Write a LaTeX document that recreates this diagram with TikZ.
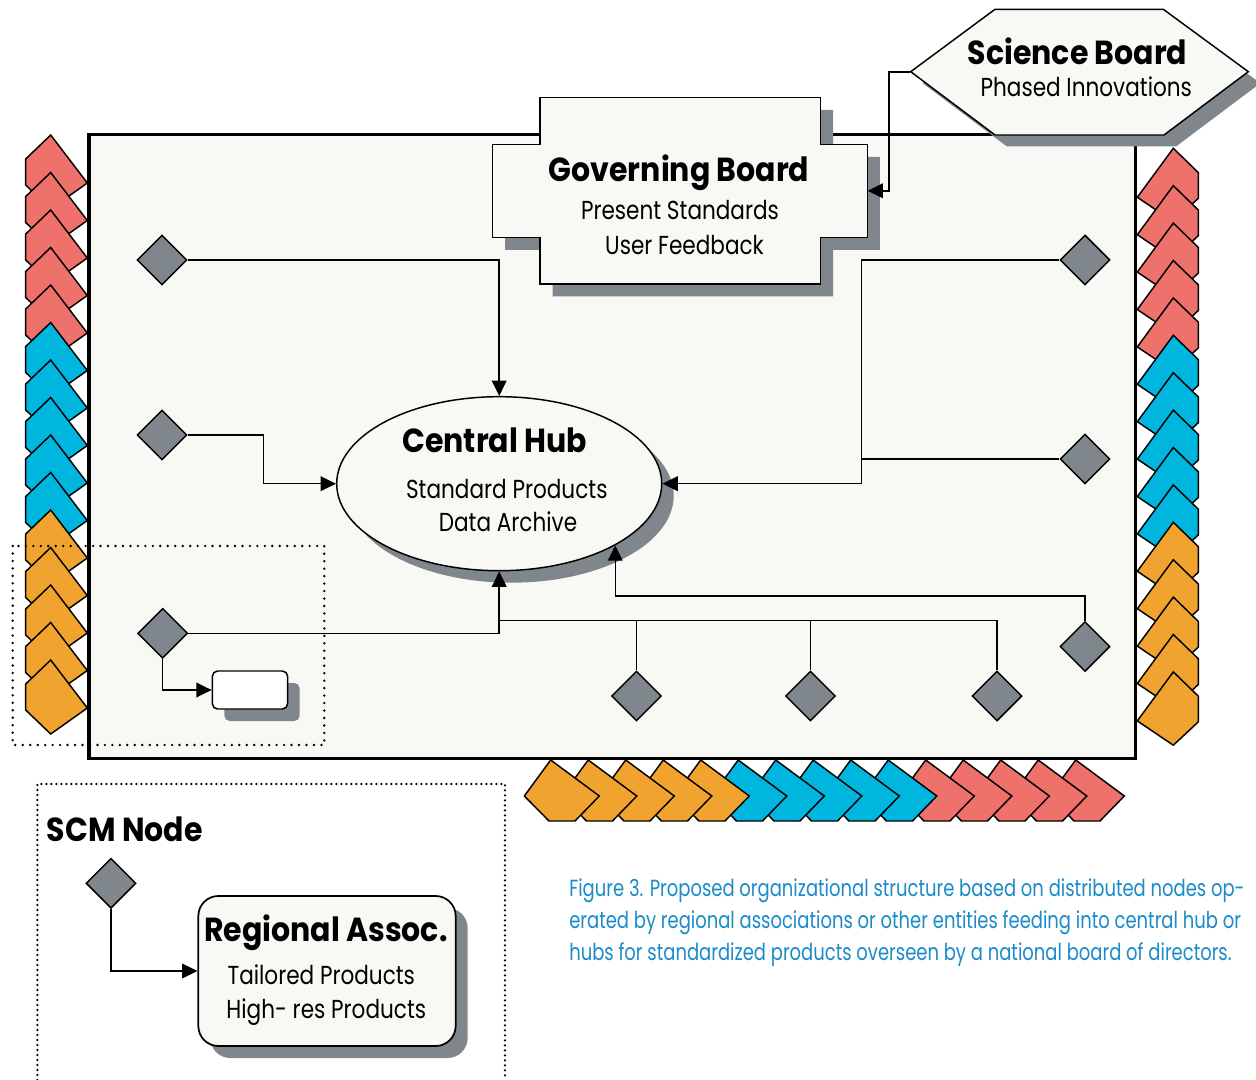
\documentclass[tikz,border=0pt]{standalone}
\usepackage{fontspec}
\setmainfont{Poppins}[FakeStretch=0.83]
\newfontfamily\titlefont{Poppins}[FakeStretch=0.9]
\newfontfamily\capfont{Poppins}[FakeStretch=0.77]
\usetikzlibrary{shapes.geometric,arrows.meta,shadows}

\definecolor{bgfill}{HTML}{F8F8F4}
\definecolor{sgray}{HTML}{7F868C}
\definecolor{cred}{HTML}{EE716C}
\definecolor{cblue}{HTML}{00B6DE}
\definecolor{corange}{HTML}{F0A42F}
\definecolor{capblue}{HTML}{1B8BC9}

\tikzset{
  line/.style={draw=black, line width=1.1pt},
  conn/.style={line, -{Triangle[length=11.5pt,width=11pt]}},
  chev/.style={draw=black, line width=1.1pt, line join=miter},
  gem/.style={diamond, draw=black, line width=1.1pt, fill=sgray,
    minimum width=37.5pt, minimum height=37.5pt, inner sep=0pt},
  shade/.style={drop shadow={shadow xshift=9pt, shadow yshift=-9pt,
    fill=sgray, opacity=1}},
  title/.style={font=\titlefont\fontsize{25pt}{30pt}\selectfont\bfseries,
    anchor=base, inner sep=0pt},
  body/.style={font=\fontsize{19.5pt}{23pt}\selectfont, anchor=base, inner sep=0pt},
  caption/.style={font=\capfont\fontsize{17.5pt}{21pt}\selectfont, text=capblue,
    anchor=base west, inner sep=0pt},
  dotsA/.style={line width=2pt, dash pattern=on 0pt off 5.6pt, line cap=round},
  dotsB/.style={line width=1.9pt, dash pattern=on 0pt off 3.75pt, line cap=round},
  gbpath/.style={insert path={(540,97.3) -- (820.7,97.3) -- (820.7,144.3)
    -- (867.3,144.3) -- (867.3,237.3) -- (820.7,237.3) -- (820.7,284)
    -- (540,284) -- (540,237.3) -- (492.7,237.3) -- (492.7,144.3)
    -- (540,144.3) -- cycle}},
  sbpath/.style={insert path={(995,9.3) -- (1163.3,9.3) -- (1248.3,71.7)
    -- (1164,135) -- (995,135) -- (910.7,71.7) -- cycle}}
}

\begin{document}
\begin{tikzpicture}[x=0.75pt,y=-0.75pt]
\useasboundingbox (0,0) rectangle (1256,1080);
\fill[white] (0,0) rectangle (1256,1080);

% left column of upward chevrons (lower ones overlap upper ones)
\foreach \i in {0,...,14}{
  \ifnum\i<5 \def\cc{cred}\else\ifnum\i<10 \def\cc{cblue}\else\def\cc{corange}\fi\fi
  \pgfmathsetmacro\ay{135+37.5*\i}
  \filldraw[chev, fill=\cc] (50.7,\ay) -- (25.7,\ay+24) -- (25.7,\ay+50)
    -- (50.7,\ay+74) -- (87.3,\ay+48) -- cycle;
}
% right column of upward chevrons
\foreach \i in {0,...,14}{
  \ifnum\i<5 \def\cc{cred}\else\ifnum\i<10 \def\cc{cblue}\else\def\cc{corange}\fi\fi
  \pgfmathsetmacro\ay{148.3+37.4*\i}
  \filldraw[chev, fill=\cc] (1173.3,\ay) -- (1198.3,\ay+24.3) -- (1198.3,\ay+50)
    -- (1173.3,\ay+73.3) -- (1137.3,\ay+49) -- cycle;
}
% bottom row of rightward chevrons (left ones overlap right ones)
\foreach \i in {14,13,...,0}{
  \ifnum\i<5 \def\cc{corange}\else\ifnum\i<10 \def\cc{cblue}\else\def\cc{cred}\fi\fi
  \pgfmathsetmacro\tx{550.7+37.5*\i}
  \filldraw[chev, fill=\cc] (\tx-26.4,796) -- (\tx,760) -- (\tx+48.6,796)
    -- (\tx+24.3,821) -- (\tx-1.7,821) -- cycle;
}

% main frame
\draw[line width=2.5pt, fill=bgfill] (89,134.5) rectangle (1135.7,758.3);

% governing board
\fill[sgray, shift={(12.5,12.5)}] [gbpath];
\draw[line, fill=bgfill] [gbpath];
\node[minimum width=281pt, minimum height=69.75pt, inner sep=0pt] (gb) at (680,190.8) {};

% science board
\fill[sgray, shift={(12,11.5)}] [sbpath];
\draw[line, fill=bgfill] [sbpath];
\node[minimum width=253.2pt, minimum height=94.3pt, inner sep=0pt] (sb) at (1079.5,72.2) {};

% central hub
\node[ellipse, draw=black, line width=1.1pt, fill=bgfill, shade,
  minimum width=243.75pt, minimum height=130.5pt, inner sep=0pt] (hub) at (499.2,483.7) {};

% distributed nodes
\node[gem] (d1) at (162,260) {};
\node[gem] (d2) at (162,435) {};
\node[gem] (d3) at (162.7,633.3) {};
\node[gem] (d4) at (1085,260) {};
\node[gem] (d5) at (1085,459) {};
\node[gem] (d6) at (1085,646.5) {};
\node[gem] (d7) at (636.5,696) {};
\node[gem] (d8) at (810.5,696) {};
\node[gem] (d9) at (997,696) {};

\node[draw=black, line width=1.1pt, fill=white, rounded corners=4pt, shade,
  minimum width=56.5pt, minimum height=28.5pt, inner sep=0pt] (sbox) at (250,690) {};

% connectors into the hub
\draw[conn] (d1.east) -| (hub.north);
\draw[conn] (d2.east) -- ++(76,0) |- (hub.west);
\draw[conn] (d3.east) -| (hub.south);
\draw[conn] (d3.south) |- (sbox.west);
\draw[conn] (d4.west) -- ++(-198,0) |- (hub.east);
\draw[line] (d5.west) -- ++(-198,0);
\draw[conn] (d6.north) -- ++(0,-25) -| (hub.-28);
\draw[line] (d9.north) -- ++(0,-50) -- ++(-497,0);
\draw[line] (d7.north) -- ++(0,-50);
\draw[line] (d8.north) -- ++(0,-50);
\draw[conn] (sb.west) -- ++(-21.4,0) |- (gb.east);

% labels
\node[title] (gbT) at (679,181.5) {Governing Board};
\node[body] (gbL1) at (680,219.3) {Present Standards};
\node[body] (gbL2) at (684.5,255) {User Feedback};
\node[title] (hubT) at (494.7,452.7) {Central Hub};
\node[body] (hubL1) at (506.8,498.3) {Standard Products};
\node[body] (hubL2) at (508,531.7) {Data Archive};
\node[title] (sbT) at (1077.5,65) {Science Board};
\node[body] (sbL1) at (1086.3,96.7) {Phased Innovations};

% highlighted node region
\draw[dotsA] (12.7,546) rectangle (324.3,745);

% legend
\draw[dotsB] (37.3,1080) -- (37.3,784) -- (505,784) -- (505,1080);
\node[title, anchor=base west] (scmT) at (46.7,841.7) {SCM Node};
\node[gem] (scm) at (111,883.3) {};
\node[draw=black, line width=1.3pt, fill=bgfill, rounded corners=15pt, shade,
  minimum width=193pt, minimum height=112.5pt, inner sep=0pt] (ra) at (327,971) {};
\draw[conn] (scm.south) |- (ra.west);
\node[title] (raT) at (325.8,941.7) {Regional Assoc.};
\node[body] (raL1) at (321.3,984.3) {Tailored Products};
\node[body] (raL2) at (326.3,1018.3) {High- res Products};

% caption
\node[caption] (cap1) at (569,896) {Figure 3. Proposed organizational structure based on distributed nodes op-};
\node[caption] (cap2) at (569,928) {erated by regional associations or other entities feeding into central hub or};
\node[caption] (cap3) at (569,960) {hubs for standardized products overseen by a national board of directors.};
\end{tikzpicture}
\end{document}
